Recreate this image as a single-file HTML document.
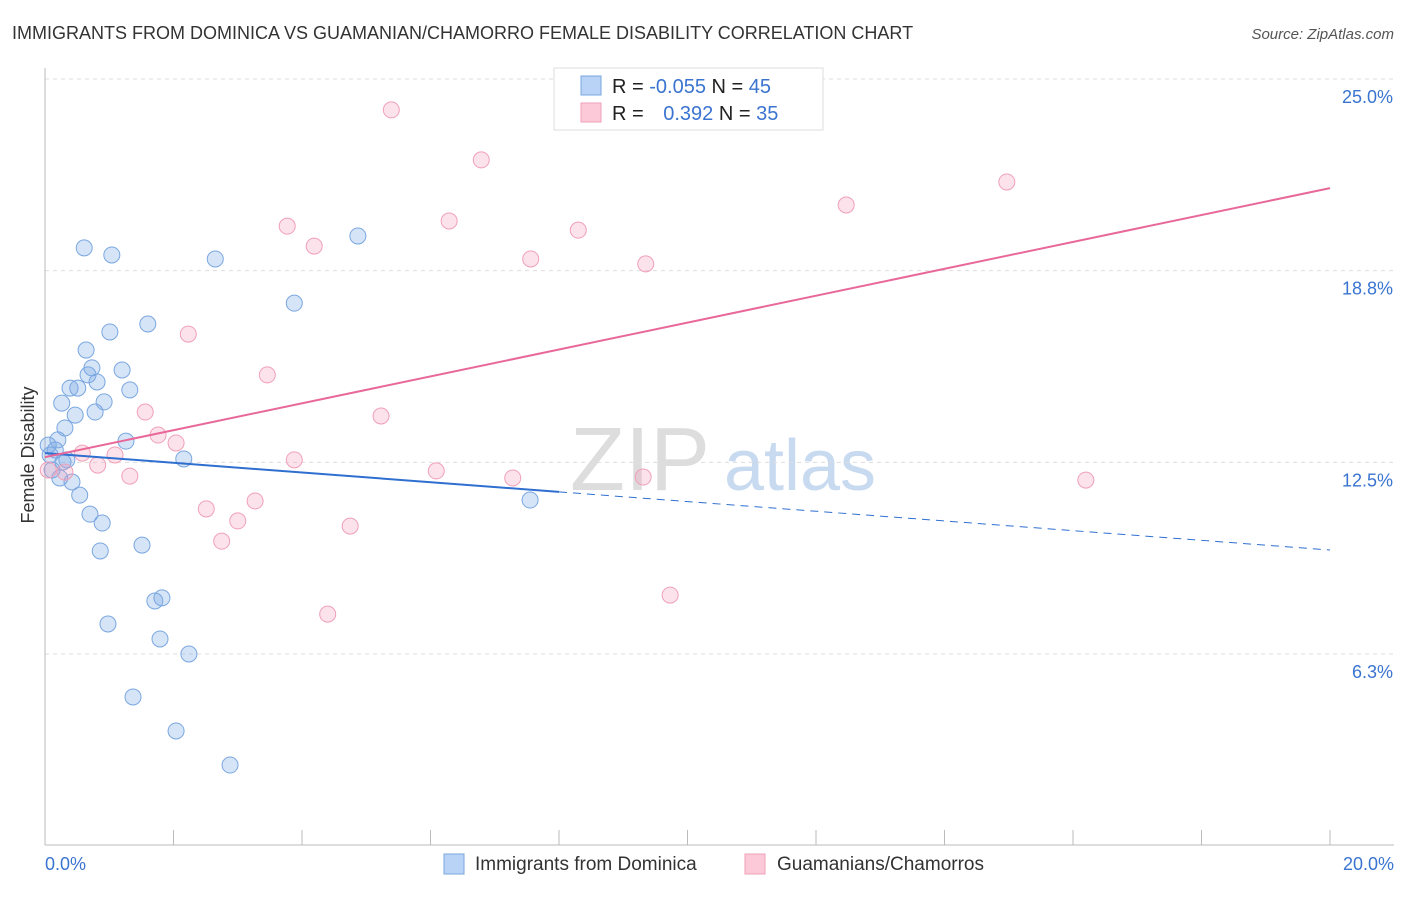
<!DOCTYPE html>
<html><head><meta charset="utf-8"><style>
body{margin:0;background:#fff;font-family:"Liberation Sans",sans-serif;}
svg text{font-family:"Liberation Sans",sans-serif;}
</style></head><body>
<svg id="chart" width="1406" height="892">
<text x="12" y="39" font-size="18" fill="#333">IMMIGRANTS FROM DOMINICA VS GUAMANIAN/CHAMORRO FEMALE DISABILITY CORRELATION CHART</text>
<text x="1394" y="39" font-size="15" fill="#555" text-anchor="end" font-style="italic">Source: ZipAtlas.com</text>
<text x="640" y="490" font-size="90" fill="#ddd" font-family="Liberation Serif" text-anchor="middle">ZIP</text>
<text x="800" y="490" font-size="72" fill="#c8daf0" text-anchor="middle">atlas</text>
<text transform="translate(34,455) rotate(-90)" font-size="18" fill="#333" text-anchor="middle">Female Disability</text>
<g id="grid"></g><g id="marks"></g>
<g>
<rect x="554" y="68" width="269" height="62" fill="#fff" stroke="#ddd"/>
<rect x="581" y="76" width="20" height="19" fill="#b8d3f5" stroke="#7aa7e0"/>
<rect x="581" y="103" width="20" height="19" fill="#fbc9d8" stroke="#f0a0b8"/>
<text x="612" y="93" font-size="20" fill="#222">R = <tspan fill="#3a74d0">-0.055</tspan>   N = <tspan fill="#3a74d0">45</tspan></text>
<text x="612" y="120" font-size="20" fill="#222">R = <tspan fill="#3a74d0" dx="14">0.392</tspan>   N = <tspan fill="#3a74d0">35</tspan></text>
</g>
<g>
<rect x="444" y="854" width="20" height="20" fill="#b8d3f5" stroke="#7aa7e0"/>
<text x="475" y="870" font-size="19" fill="#333">Immigrants from Dominica</text>
<rect x="745" y="854" width="20" height="20" fill="#fbc9d8" stroke="#f0a0b8"/>
<text x="777" y="870" font-size="19" fill="#333">Guamanians/Chamorros</text>
</g>
</svg>
<script>
const blueX=[0.05,0.11,0.16,0.20,0.23,0.26,0.31,0.34,0.39,0.42,0.47,0.51,0.54,0.61,0.64,0.67,0.70,0.73,0.78,0.81,0.86,0.89,0.92,0.98,1.01,1.04,1.20,1.26,1.32,1.37,1.51,1.60,1.71,1.79,1.82,2.04,2.16,2.24,2.65,2.88,3.88,4.87,7.55,0.08,0.28];
const blueY=[13.06,12.25,12.90,13.23,11.99,14.43,13.62,12.58,14.92,11.86,14.04,14.92,11.43,19.49,16.16,15.35,10.81,15.58,14.14,15.12,9.61,10.52,14.47,7.23,16.75,19.26,15.51,13.19,14.86,4.85,9.80,17.01,7.98,6.74,8.08,3.74,12.61,6.25,19.13,2.63,17.69,19.88,11.27,12.74,12.51];
const pinkX=[0.05,0.31,0.58,0.82,1.09,1.32,1.56,1.76,2.04,2.23,2.51,2.75,3.00,3.27,3.46,3.77,3.88,4.19,4.40,4.75,5.23,5.39,6.09,6.29,6.79,7.28,7.56,8.30,9.31,9.35,9.73,10.74,12.47,14.97,16.20];
const pinkY=[12.25,12.18,12.80,12.41,12.74,12.05,14.14,13.39,13.13,16.68,10.98,9.93,10.59,11.24,15.35,20.20,12.58,19.55,7.55,10.42,14.01,23.99,12.22,20.37,22.36,11.99,19.13,20.07,12.02,18.97,8.17,24.70,20.89,21.64,11.92];
const yTicks=[6.25,12.5,18.75,25];
const yTickLabels=["6.3%","12.5%","18.8%","25.0%"];
const blueTrend=[12.80,9.64];const pinkTrend=[12.67,21.44];
const NS="http://www.w3.org/2000/svg";
const xs=v=>45+v*64.25, ys=v=>654-(v-6.25)*30.67;
const grid=document.getElementById('grid'),marks=document.getElementById('marks');
function mk(tag,attrs,parent){const e=document.createElementNS(NS,tag);for(const k in attrs)e.setAttribute(k,attrs[k]);parent.appendChild(e);return e;}
yTicks.forEach((t,i)=>{
 const l=mk('line',{x1:45,x2:1394,y1:ys(t),y2:ys(t),stroke:'#ddd','stroke-dasharray':'4,4'},grid);
 
 
 const tx=mk('text',{x:1393,y:ys(t)+24,'font-size':18,fill:'#3a74d0','text-anchor':'end'},grid);
 tx.textContent=yTickLabels[i];
 
 
});
const ax=mk('line',{x1:45,x2:1394,y1:845,y2:845,stroke:'#bbb'},grid);


const ay=mk('line',{x1:45,x2:45,y1:68,y2:845,stroke:'#bbb'},grid);


for(let i=1;i<=10;i++){const t=mk('line',{x1:xs(i*2),x2:xs(i*2),y1:830,y2:845,stroke:'#bbb'},grid);
 
 }
[[0,'0.0%','start',45],[20,'20.0%','end',1394]].forEach(a=>{const t=mk('text',{x:a[3],y:870,'font-size':18,fill:'#3a74d0','text-anchor':a[2]},grid);t.textContent=a[1];
 
 });
blueX.forEach((x,i)=>{const c=mk('circle',{cx:xs(x),cy:ys(blueY[i]),r:8,fill:'rgba(120,165,230,0.3)',stroke:'#7aa7e0','stroke-width':1},marks);
 
 });
pinkX.forEach((x,i)=>{const c=mk('circle',{cx:xs(x),cy:ys(pinkY[i]),r:8,fill:'rgba(245,160,190,0.3)',stroke:'#f0a0b8','stroke-width':1},marks);
 
 });
const bAt=v=>blueTrend[0]+(blueTrend[1]-blueTrend[0])*v/20;
const b1=mk('line',{x1:xs(0),y1:ys(bAt(0)),x2:xs(8),y2:ys(bAt(8)),stroke:'#2f6fd0','stroke-width':2},marks);


const b2=mk('line',{x1:xs(8),y1:ys(bAt(8)),x2:xs(20),y2:ys(bAt(20)),stroke:'#2f6fd0','stroke-width':1,'stroke-dasharray':'8,6'},marks);


const p1=mk('line',{x1:xs(0),y1:ys(pinkTrend[0]),x2:xs(20),y2:ys(pinkTrend[1]),stroke:'#e8689a','stroke-width':2},marks);


</script>
</body></html>
